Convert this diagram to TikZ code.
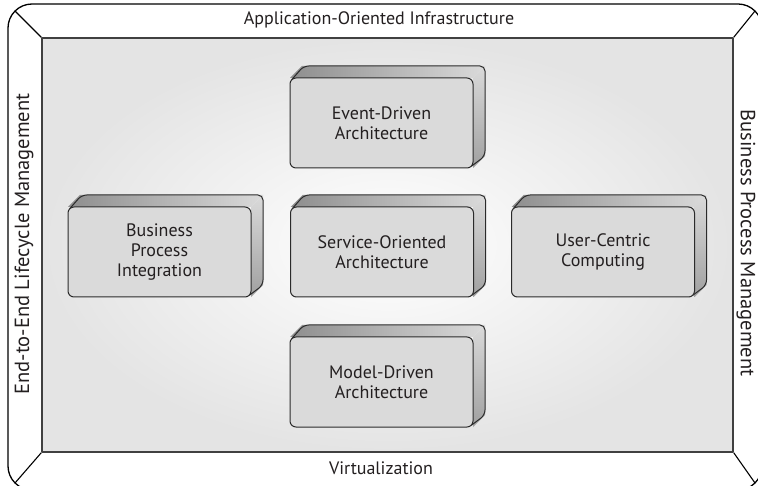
\documentclass[tikz,border=0pt]{standalone}
\usepackage{fontspec}
\setmainfont{PT Sans}
\definecolor{txt}{HTML}{231F20}
\definecolor{edge}{HTML}{2B2B2B}
\definecolor{facegrey}{HTML}{DADADA}
\definecolor{panelgrey}{HTML}{E4E4E4}
\definecolor{topdark}{HTML}{8E8E8E}
\definecolor{toplight}{HTML}{DADADA}
\definecolor{sidelight}{HTML}{DADADA}
\definecolor{sidedark}{HTML}{A0A0A0}

% sides of an extruded slab whose front face is centred at (#1,#2)
\newcommand\slabsides[2]{%
  \begin{scope}[shift={(#1,#2)}]
    \shade[left color=topdark, right color=toplight]
      (-91.5,-45) -- (-79.5,-57) -- (103.5,-57) -- (91.5,-45) -- cycle;
    \shade[top color=sidelight, bottom color=sidedark]
      (91.5,-45) -- (103.5,-57) -- (103.5,33) -- (91.5,45) -- cycle;
    \draw[edge, line width=1pt, rounded corners=5pt]
      (-89.8,-43.3) -- (-77.8,-57) -- (103.5,-57) -- (103.5,33) -- (89.8,43.3);
  \end{scope}}

\begin{document}
\begin{tikzpicture}[x=1pt, y=-1pt, line join=round,
  lbl/.style={font=\fontsize{18}{20}\selectfont, text=txt, inner sep=0pt},
  sidelbl/.style={font=\fontsize{20.5}{22}\selectfont, text=txt, inner sep=0pt},
  face/.style={draw=edge, line width=1pt, fill=facegrey, rounded corners=6pt,
    minimum width=183pt, minimum height=90pt, align=center, inner sep=0pt,
    text=txt, font=\fontsize{18}{19.8}\selectfont},
  panel/.style={draw=edge!90, line width=1.4pt, inner color=white,
    outer color=panelgrey, minimum width=691pt, minimum height=414pt, inner sep=0pt},
  frame/.style={draw=black, line width=1.3pt}]
\useasboundingbox (0,0) rectangle (758,486);

% outer rounded frame
\begin{scope}
  \clip (0,0) rectangle (758,486);
  \draw[frame, rounded corners=24pt] (8,4) rectangle (762,490);
\end{scope}
\coordinate (otl) at (15,11);
\coordinate (otr) at (755,11);
\coordinate (obr) at (755,483);
\coordinate (obl) at (15,483);

% central panel with soft glow
\node[panel] (core) at (387.5,245) {};
\draw[frame, line width=1.1pt] (core.north west) -- (otl);
\draw[frame, line width=1.1pt] (core.north east) -- (otr);
\draw[frame, line width=1.1pt] (core.south east) -- (obr);
\draw[frame, line width=1.1pt] (core.south west) -- (obl);

% labels on the frame
\node[lbl] (infra) at (379,20) {Application-Oriented Infrastructure};
\node[lbl] (virt) at (381,468) {Virtualization};
\node[sidelbl, rotate=90] (life) at (24,244) {End-to-End Lifecycle Management};
\node[sidelbl, rotate=-90] (bpm) at (746,243) {Business Process Management};

% slabs
\slabsides{381.5}{123}
\node[face] (eda) at (381.5,123) {Event-Driven\\Architecture};
\slabsides{159.5}{252}
\node[face] (bpi) at (159.5,252) {Business\\Process\\Integration};
\slabsides{382}{252}
\node[face] (soa) at (382,252) {Service-Oriented\\Architecture};
\slabsides{603}{252}
\node[face] (ucc) at (603,252) {User-Centric\\Computing};
\slabsides{381.5}{382}
\node[face] (mda) at (381.5,382) {Model-Driven\\Architecture};
\end{tikzpicture}
\end{document}
